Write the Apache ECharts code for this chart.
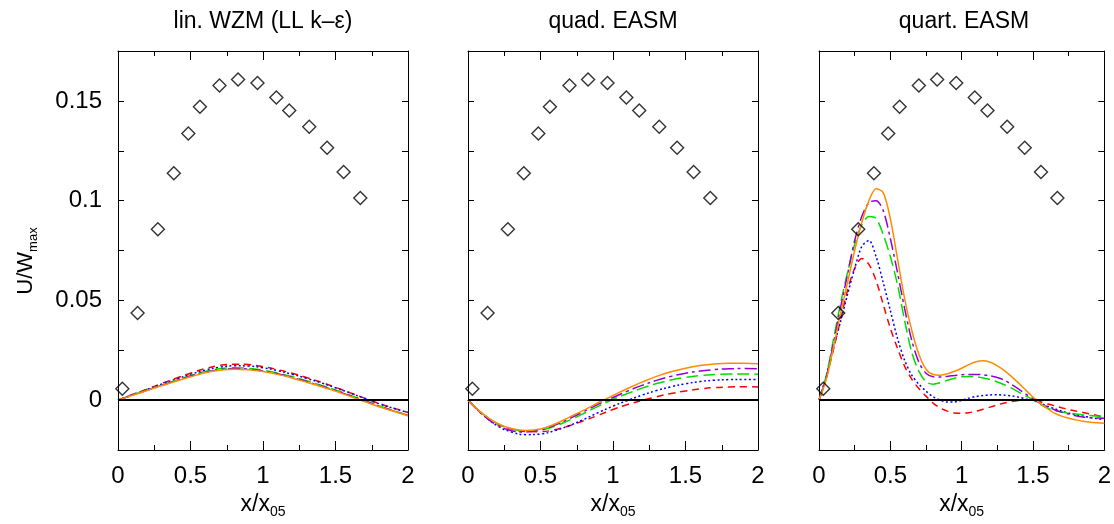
<!DOCTYPE html>
<html>
<head>
<meta charset="utf-8">
<script src="https://cdn.jsdelivr.net/npm/echarts@6/dist/echarts.min.js"></script>
<style>html,body{margin:0;padding:0;background:#fff}#c{width:1114px;height:524px}</style>
</head>
<body>
<div id="c"></div>
<script>
// ---- data ----
const panelTitles = ['lin. WZM (LL k\u2013\u03b5)', 'quad. EASM', 'quart. EASM'];
const xTickLabels = ['0', '0.5', '1', '1.5', '2'];
const yTickLabels = ['0', '0.05', '0.1', '0.15'];

// experiment (diamonds), same in every panel
const expX = [0.030, 0.135, 0.275, 0.385, 0.485, 0.565, 0.700, 0.828, 0.962, 1.092, 1.181, 1.319, 1.442, 1.556, 1.671];
const expY = [0.0057, 0.0437, 0.0857, 0.1137, 0.1337, 0.147, 0.1577, 0.1607, 0.159, 0.1517, 0.1452, 0.137, 0.1265, 0.1143, 0.1013];

// x positions of the computed curves
const xCoarse = [0, 0.1, 0.2, 0.3, 0.4, 0.5, 0.6, 0.7, 0.8, 0.9, 1.0, 1.1, 1.2, 1.3, 1.4, 1.5, 1.6, 1.7, 1.8, 1.9, 2.0];
const xFine = [0, 0.05, 0.1, 0.15, 0.2, 0.25, 0.3, 0.35, 0.4, 0.45, 0.5, 0.55, 0.6, 0.65, 0.7, 0.75, 0.8, 0.85, 0.9, 0.95, 1.0,
               1.05, 1.1, 1.15, 1.2, 1.25, 1.3, 1.35, 1.4, 1.45, 1.5, 1.55, 1.6, 1.65, 1.7, 1.75, 1.8, 1.85, 1.9, 1.95, 2.0];

// panel 1: lin. WZM (on xCoarse)
const redLin    = [0, 0.0028, 0.0055, 0.0083, 0.0110, 0.0135, 0.0158, 0.0174, 0.0180, 0.0178, 0.0168, 0.0153, 0.0135, 0.0113, 0.0090, 0.0064, 0.0037, 0.0010, -0.0017, -0.0040, -0.0062];
const blueLin   = [0, 0.0027, 0.0053, 0.0080, 0.0105, 0.0129, 0.0150, 0.0165, 0.0172, 0.0171, 0.0162, 0.0148, 0.0130, 0.0109, 0.0087, 0.0062, 0.0036, 0.0009, -0.0018, -0.0041, -0.0062];
const greenLin  = [0, 0.0026, 0.0050, 0.0075, 0.0099, 0.0123, 0.0143, 0.0157, 0.0162, 0.0159, 0.0150, 0.0136, 0.0118, 0.0097, 0.0075, 0.0051, 0.0025, -0.0002, -0.0029, -0.0053, -0.0075];
const purpleLin = [0, 0.0025, 0.0049, 0.0073, 0.0097, 0.0120, 0.0140, 0.0153, 0.0158, 0.0155, 0.0146, 0.0132, 0.0114, 0.0093, 0.0071, 0.0048, 0.0022, -0.0004, -0.0030, -0.0054, -0.0077];
const orangeLin = [0, 0.0024, 0.0048, 0.0072, 0.0095, 0.0117, 0.0137, 0.0150, 0.0155, 0.0152, 0.0143, 0.0129, 0.0111, 0.0090, 0.0068, 0.0045, 0.0019, -0.0007, -0.0033, -0.0056, -0.0078];

// panel 2: quad. EASM (on xCoarse)
const redQuad    = [0, -0.0068, -0.0118, -0.0145, -0.0157, -0.0158, -0.0148, -0.0128, -0.0103, -0.0075, -0.0047, -0.0022, -0.0002, 0.0017, 0.0033, 0.0046, 0.0056, 0.0063, 0.0066, 0.0067, 0.0066];
const blueQuad   = [0, -0.0072, -0.0128, -0.0160, -0.0173, -0.0170, -0.0153, -0.0127, -0.0096, -0.0062, -0.0030, -0.0002, 0.0025, 0.0048, 0.0067, 0.0082, 0.0093, 0.0100, 0.0103, 0.0104, 0.0103];
const greenQuad  = [0, -0.0068, -0.0118, -0.0145, -0.0155, -0.0150, -0.0130, -0.0100, -0.0066, -0.0030, 0.0004, 0.0033, 0.0060, 0.0083, 0.0101, 0.0114, 0.0123, 0.0128, 0.0131, 0.0131, 0.0130];
const purpleQuad = [0, -0.0072, -0.0125, -0.0153, -0.0160, -0.0150, -0.0125, -0.0092, -0.0057, -0.0020, 0.0013, 0.0045, 0.0074, 0.0099, 0.0119, 0.0135, 0.0146, 0.0153, 0.0157, 0.0158, 0.0157];
const orangeQuad = [0, -0.0068, -0.0115, -0.0142, -0.0152, -0.0145, -0.0120, -0.0085, -0.0050, -0.0012, 0.0023, 0.0058, 0.0090, 0.0119, 0.0142, 0.0160, 0.0173, 0.0181, 0.0185, 0.0185, 0.0182];

// panel 3: quart. EASM (on xFine)
const redQuart    = [0, 0.011, 0.025, 0.040, 0.055, 0.066, 0.071, 0.068, 0.060, 0.048, 0.036, 0.026, 0.017, 0.0105, 0.0058, 0.0020, -0.0015, -0.0040, -0.0055, -0.0064, -0.0066,
                     -0.0063, -0.0056, -0.0046, -0.0035, -0.0024, -0.0014, -0.0007, -0.0002, 0.0000, -0.0002, -0.0008, -0.0018, -0.0028, -0.0038, -0.0047, -0.0055, -0.0062, -0.0069, -0.0077, -0.0085];
const blueQuart   = [0, 0.012, 0.026, 0.039, 0.053, 0.066, 0.077, 0.080, 0.072, 0.059, 0.045, 0.031, 0.020, 0.0125, 0.0080, 0.0045, 0.0017, 0.0000, -0.0010, -0.0009, -0.0001,
                     0.0010, 0.0018, 0.0023, 0.0026, 0.0027, 0.0025, 0.0021, 0.0015, 0.0006, -0.0002, -0.0015, -0.0030, -0.0043, -0.0055, -0.0065, -0.0073, -0.0080, -0.0087, -0.0093, -0.0098];
const greenQuart  = [0, 0.012, 0.030, 0.048, 0.064, 0.078, 0.088, 0.092, 0.091, 0.083, 0.072, 0.058, 0.040, 0.024, 0.0145, 0.0092, 0.0080, 0.0087, 0.0100, 0.0110, 0.0117,
                     0.0119, 0.0117, 0.0111, 0.0103, 0.0091, 0.0077, 0.0060, 0.0040, 0.0020, 0.0003, -0.0020, -0.0040, -0.0052, -0.0060, -0.0066, -0.0070, -0.0074, -0.0077, -0.0080, -0.0082];
const purpleQuart = [0, 0.011, 0.028, 0.046, 0.063, 0.080, 0.092, 0.099, 0.100, 0.095, 0.081, 0.064, 0.046, 0.030, 0.019, 0.0135, 0.0117, 0.0116, 0.0119, 0.0123, 0.0127,
                     0.0129, 0.0129, 0.0127, 0.0122, 0.0113, 0.0100, 0.0078, 0.0055, 0.0030, 0.0008, -0.0015, -0.0033, -0.0048, -0.0060, -0.0070, -0.0078, -0.0084, -0.0088, -0.0090, -0.0091];
const orangeQuart = [0, 0.010, 0.026, 0.043, 0.059, 0.075, 0.089, 0.100, 0.106, 0.104, 0.091, 0.071, 0.051, 0.035, 0.023, 0.0155, 0.0128, 0.0125, 0.0132, 0.0145, 0.0160,
                     0.0178, 0.0192, 0.0197, 0.0190, 0.0172, 0.0148, 0.0118, 0.0085, 0.0050, 0.0015, -0.0015, -0.0042, -0.0065, -0.0080, -0.0091, -0.0099, -0.0106, -0.0111, -0.0114, -0.0116];

// ---- styling / layout ----
const FONT = 'Liberation Sans, Arial, Helvetica, sans-serif';
const gridLefts = [118, 468, 819];
const GRID_W = 290, GRID_TOP = 51, GRID_H = 400;

const curveStyles = [
  { color: '#ff0000', type: [7, 5] },            // red dashed
  { color: '#0000ff', type: [2, 2.5] },          // blue dotted
  { color: '#00dd00', type: [12, 5] },           // green long dash
  { color: '#9400d3', type: [12, 4, 3, 4] },     // purple dash-dot
  { color: '#ff8c00', type: 'solid' }            // orange solid
];
const panelCurves = [
  { x: xCoarse, ys: [redLin, blueLin, greenLin, purpleLin, orangeLin], smooth: 0.4 },
  { x: xCoarse, ys: [redQuad, blueQuad, greenQuad, purpleQuad, orangeQuad], smooth: 0.4 },
  { x: xFine, ys: [redQuart, blueQuart, greenQuart, purpleQuart, orangeQuart], smooth: 0.3 }
];

function fmtY(v) {
  const r = Math.round(v * 1000) / 1000;
  const s = String(r);
  return yTickLabels.indexOf(s) >= 0 ? s : '';
}
function fmtX(v) {
  const s = String(Math.round(v * 100) / 100);
  return xTickLabels.indexOf(s) >= 0 ? s : '';
}

const grid = [], xAxis = [], yAxis = [], series = [], title = [];
const axisLine = { show: true, onZero: false, lineStyle: { color: '#000', width: 1 } };

for (let p = 0; p < 3; p++) {
  grid.push({ left: gridLefts[p], top: GRID_TOP, width: GRID_W, height: GRID_H });
  title.push({
    text: panelTitles[p], left: gridLefts[p] + GRID_W / 2, top: 10, textAlign: 'center', padding: 0,
    textStyle: { fontFamily: FONT, fontSize: 23, fontWeight: 'normal', color: '#000' }
  });
  const xBase = {
    gridIndex: p, type: 'value', min: 0, max: 2, interval: 0.5,
    axisLine: axisLine,
    axisTick: { show: true, inside: true, length: 9, lineStyle: { color: '#000', width: 1 } },
    minorTick: { show: true, splitNumber: 2, length: 5, lineStyle: { color: '#000', width: 1 } },
    splitLine: { show: false }, minorSplitLine: { show: false }
  };
  xAxis.push(Object.assign({}, xBase, {
    position: 'bottom',
    axisLabel: { show: true, margin: 14, fontSize: 24, fontFamily: FONT, color: '#000', formatter: fmtX },
    name: '{a|x/x}{s|05}', nameLocation: 'middle', nameGap: 40,
    nameTextStyle: {
      color: '#000', fontFamily: FONT,
      rich: { a: { fontSize: 23, fontFamily: FONT, color: '#000' },
              s: { fontSize: 14, fontFamily: FONT, color: '#000', padding: [15, 0, 0, 0] } }
    }
  }));
  xAxis.push(Object.assign({}, xBase, { position: 'top', axisLabel: { show: false } }));

  const yBase = {
    gridIndex: p, type: 'value', min: -0.025, max: 0.175, interval: 0.025,
    axisLine: axisLine,
    axisTick: { show: true, inside: true, length: 6, lineStyle: { color: '#000', width: 1 } },
    splitLine: { show: false }
  };
  const yLeft = Object.assign({}, yBase, {
    position: 'left',
    axisLabel: { show: p === 0, margin: 16, fontSize: 24, fontFamily: FONT, color: '#000', formatter: fmtY }
  });
  if (p === 0) {
    Object.assign(yLeft, {
      name: '{a|U/W}{s|max}', nameLocation: 'middle', nameGap: 78,
      nameTextStyle: {
        color: '#000', fontFamily: FONT, padding: [0, 21, 0, 0],
        rich: { a: { fontSize: 22, fontFamily: FONT, color: '#000' },
                s: { fontSize: 13, fontFamily: FONT, color: '#000', padding: [15, 0, 0, 0] } }
      }
    });
  }
  yAxis.push(yLeft);
  yAxis.push(Object.assign({}, yBase, { position: 'right', axisLabel: { show: false } }));

  const pc = panelCurves[p];
  pc.ys.forEach(function (ys, k) {
    series.push({
      type: 'line', xAxisIndex: 2 * p, yAxisIndex: 2 * p,
      data: pc.x.map(function (x, i) { return [x, ys[i]]; }),
      showSymbol: false, symbol: 'none', smooth: pc.smooth, silent: true, animation: false,
      lineStyle: { color: curveStyles[k].color, type: curveStyles[k].type, width: 1.5 },
      z: 3
    });
  });
  series.push({
    type: 'scatter', xAxisIndex: 2 * p, yAxisIndex: 2 * p,
    data: expX.map(function (x, i) { return [x, expY[i]]; }),
    symbol: 'diamond', symbolSize: 13, silent: true, animation: false,
    itemStyle: { color: 'rgba(255,255,255,0)', borderColor: '#000', borderWidth: 1.4 },
    z: 4,
    markLine: {
      silent: true, symbol: 'none', animation: false, label: { show: false },
      lineStyle: { color: '#000', width: 2, type: 'solid' },
      data: [{ yAxis: 0 }]
    }
  });
}

const chart = echarts.init(document.getElementById('c'), null, { renderer: 'canvas' });
chart.setOption({
  animation: false,
  backgroundColor: '#fff',
  title: title, grid: grid, xAxis: xAxis, yAxis: yAxis, series: series
});
</script>
</body>
</html>
